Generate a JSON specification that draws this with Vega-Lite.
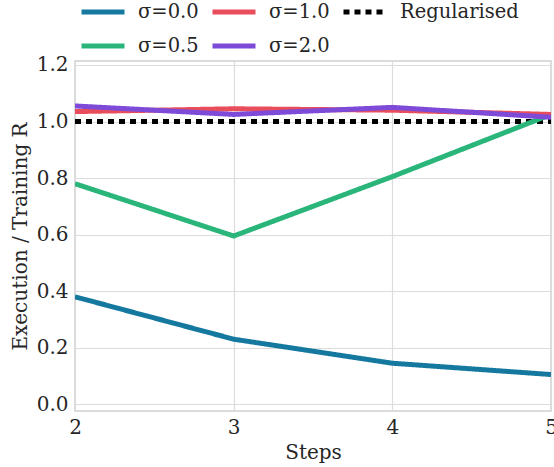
{
  "$schema": "https://vega.github.io/schema/vega-lite/v6.json",
  "width": 476,
  "height": 350,
  "autosize": "none",
  "padding": {"left": 75, "top": 61, "right": 3, "bottom": 56},
  "background": "white",
  "config": {
    "font": "DejaVu Serif",
    "view": {"stroke": "#d0d0d0", "strokeWidth": 1.5},
    "axis": {
      "labelFont": "DejaVu Serif",
      "titleFont": "DejaVu Serif",
      "labelFontSize": 20,
      "titleFontSize": 20,
      "titleFontWeight": "normal",
      "labelColor": "#262626",
      "titleColor": "#262626",
      "gridColor": "#dcdcdc",
      "gridWidth": 1.2,
      "domain": false,
      "ticks": false
    }
  },
  "data": {
    "values": [
      {"series": "Regularised", "step": 2, "value": 1.0},
      {"series": "Regularised", "step": 5, "value": 1.0},
      {"series": "σ=0.0", "step": 2, "value": 0.38},
      {"series": "σ=0.0", "step": 3, "value": 0.23},
      {"series": "σ=0.0", "step": 4, "value": 0.145},
      {"series": "σ=0.0", "step": 5, "value": 0.105},
      {"series": "σ=0.5", "step": 2, "value": 0.78},
      {"series": "σ=0.5", "step": 3, "value": 0.595},
      {"series": "σ=0.5", "step": 4, "value": 0.805},
      {"series": "σ=0.5", "step": 5, "value": 1.025},
      {"series": "σ=1.0", "step": 2, "value": 1.035},
      {"series": "σ=1.0", "step": 3, "value": 1.045},
      {"series": "σ=1.0", "step": 4, "value": 1.04},
      {"series": "σ=1.0", "step": 5, "value": 1.025},
      {"series": "σ=2.0", "step": 2, "value": 1.055},
      {"series": "σ=2.0", "step": 3, "value": 1.025},
      {"series": "σ=2.0", "step": 4, "value": 1.05},
      {"series": "σ=2.0", "step": 5, "value": 1.015}
    ]
  },
  "mark": {"type": "line", "strokeWidth": 5, "clip": true},
  "encoding": {
    "x": {
      "field": "step", "type": "quantitative",
      "scale": {"domain": [2, 5], "nice": false, "zero": false},
      "axis": {"values": [2, 3, 4, 5], "format": "d", "title": "Steps", "labelPadding": 6, "titlePadding": 5, "labelFlush": false}
    },
    "y": {
      "field": "value", "type": "quantitative",
      "scale": {"domain": [-0.024, 1.214], "nice": false, "zero": false},
      "axis": {"values": [0, 0.2, 0.4, 0.6, 0.8, 1.0, 1.2], "format": ".1f", "title": "Execution / Training R", "labelPadding": 7, "titlePadding": 6}
    },
    "color": {
      "field": "series", "type": "nominal",
      "scale": {
        "domain": ["σ=0.0", "σ=1.0", "Regularised", "σ=0.5", "σ=2.0"],
        "range": ["#15789e", "#e84d5b", "#000000", "#2ab67a", "#7e4bd8"]
      },
      "legend": {
        "title": null,
        "orient": "none",
        "legendX": 4,
        "legendY": -73,
        "columns": 3,
        "direction": "horizontal",
        "symbolType": "stroke",
        "symbolSize": 1849,
        "symbolStrokeWidth": 5,
        "labelFont": "DejaVu Serif",
        "labelFontSize": 19.5,
        "labelColor": "#262626",
        "labelOffset": 11,
        "columnPadding": 3,
        "rowPadding": -14
      }
    },
    "strokeDash": {
      "field": "series", "type": "nominal",
      "scale": {
        "domain": ["σ=0.0", "σ=1.0", "Regularised", "σ=0.5", "σ=2.0"],
        "range": [[1, 0], [1, 0], [6, 5], [1, 0], [1, 0]]
      },
      "legend": null
    },
    "strokeWidth": {
      "field": "series", "type": "nominal",
      "scale": {
        "domain": ["σ=0.0", "σ=1.0", "Regularised", "σ=0.5", "σ=2.0"],
        "range": [5, 5, 3, 5, 5]
      },
      "legend": null
    }
  }
}
